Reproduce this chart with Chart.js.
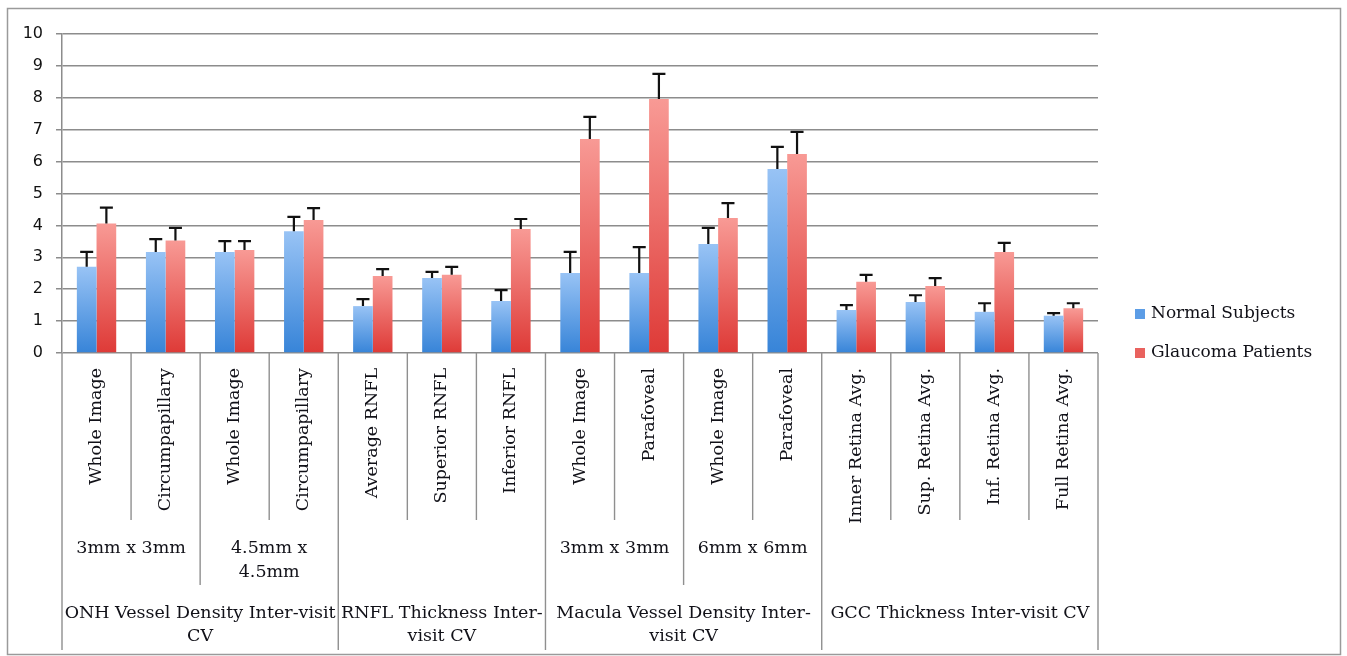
<!DOCTYPE html>
<html lang="en">
  <head>
    <meta charset="UTF-8" />
    <title>Inter-visit CV</title>
    <style>
      body { margin: 0; background: #fff; overflow: hidden; }
      #wrap { position: relative; width: 1347px; height: 656px; }
    </style>
  </head>
  <body>
    <div id="wrap"><canvas id="myChart"></canvas></div>

    <script src="https://cdn.jsdelivr.net/npm/chart.js"></script>
    <script>
      const categories = [
        "Whole Image", "Circumpapillary", "Whole Image", "Circumpapillary",
        "Average RNFL", "Superior RNFL", "Inferior RNFL",
        "Whole Image", "Parafoveal", "Whole Image", "Parafoveal",
        "Inner Retina Avg.", "Sup. Retina Avg.", "Inf. Retina Avg.", "Full Retina Avg.",
      ];
      const sizeLabels = [["3mm x 3mm"], ["4.5mm x", "4.5mm"], [], ["3mm x 3mm"], ["6mm x 6mm"], []];
      const sizeSpans = [2, 2, 3, 2, 2, 4];
      const groupLabels = [
        ["ONH Vessel Density Inter-visit", "CV"],
        ["RNFL Thickness Inter-", "visit CV"],
        ["Macula Vessel Density Inter-", "visit CV"],
        ["GCC Thickness Inter-visit CV"],
      ];
      const groupSpans = [4, 3, 4, 4];

      const normal = [2.70, 3.17, 3.17, 3.82, 1.47, 2.35, 1.63, 2.51, 2.51, 3.42, 5.77, 1.35, 1.60, 1.29, 1.17];
      const normalErr = [0.47, 0.40, 0.34, 0.45, 0.22, 0.19, 0.34, 0.66, 0.81, 0.50, 0.69, 0.15, 0.21, 0.27, 0.08];
      const glaucoma = [4.06, 3.53, 3.23, 4.17, 2.41, 2.45, 3.89, 6.71, 7.96, 4.23, 6.24, 2.23, 2.10, 3.17, 1.40];
      const glaucomaErr = [0.50, 0.39, 0.28, 0.37, 0.22, 0.25, 0.31, 0.69, 0.79, 0.47, 0.69, 0.22, 0.25, 0.28, 0.16];

      const serif = "'DejaVu Serif', serif";
      const gridColor = "#8c8c8c";
      const textColor = "#111118";

      function barGradient(top, bottom) {
        return (ctx) => {
          const chart = ctx.chart;
          const y = chart.scales.y;
          if (!chart.chartArea || !y || ctx.raw == null) return bottom;
          const y0 = y.getPixelForValue(0);
          const y1 = y.getPixelForValue(ctx.raw);
          if (!isFinite(y0) || !isFinite(y1) || y0 === y1) return bottom;
          const g = chart.ctx.createLinearGradient(0, y1, 0, y0);
          g.addColorStop(0, top);
          g.addColorStop(1, bottom);
          return g;
        };
      }

      // error bars (upper only), drawn from the y scale
      const errorBars = {
        id: "errorBars",
        afterDatasetsDraw(chart) {
          const ctx = chart.ctx;
          const y = chart.scales.y;
          ctx.save();
          ctx.strokeStyle = "#111";
          ctx.lineWidth = 2.2;
          chart.data.datasets.forEach((ds, di) => {
            const meta = chart.getDatasetMeta(di);
            meta.data.forEach((bar, i) => {
              const top = y.getPixelForValue(ds.data[i] + ds.errors[i]);
              ctx.beginPath();
              ctx.moveTo(bar.x, bar.y);
              ctx.lineTo(bar.x, top);
              ctx.moveTo(bar.x - 6.5, top);
              ctx.lineTo(bar.x + 6.5, top);
              ctx.stroke();
            });
          });
          ctx.restore();
        },
      };

      // multi-level category axis, legend and frame
      const extras = {
        id: "extras",
        afterDraw(chart) {
          const ctx = chart.ctx;
          const x = chart.scales.x;
          const base = chart.chartArea.bottom;
          const step = x.width / categories.length;
          const edge = (i) => x.left + step * i;
          ctx.save();

          // dividers
          const groupEnds = [], sizeEnds = [];
          groupSpans.reduce((a, n) => { groupEnds.push(a + n); return a + n; }, 0);
          sizeSpans.reduce((a, n) => { sizeEnds.push(a + n); return a + n; }, 0);
          ctx.strokeStyle = "#8f8f8f";
          ctx.lineWidth = 1.4;
          for (let i = 0; i <= categories.length; i++) {
            let end = 520;
            if (i === 0 || groupEnds.includes(i)) end = 650;
            else if (sizeEnds.includes(i)) end = 585;
            ctx.beginPath();
            ctx.moveTo(edge(i), base);
            ctx.lineTo(edge(i), end);
            ctx.stroke();
          }

          ctx.fillStyle = textColor;
          ctx.font = "17.5px " + serif;
          // level 1 (rotated)
          categories.forEach((c, i) => {
            ctx.save();
            ctx.translate(x.getPixelForValue(i), 368);
            ctx.rotate(-Math.PI / 2);
            ctx.textAlign = "right";
            ctx.textBaseline = "middle";
            ctx.fillText(c, 0, 0);
            ctx.restore();
          });
          ctx.textAlign = "center";
          ctx.textBaseline = "middle";
          // level 2
          let s = 0;
          sizeLabels.forEach((lines, k) => {
            const cx = (edge(s) + edge(s + sizeSpans[k])) / 2;
            lines.forEach((t, j) => ctx.fillText(t, cx, 548 + j * 24));
            s += sizeSpans[k];
          });
          // level 3
          s = 0;
          groupLabels.forEach((lines, k) => {
            const cx = (edge(s) + edge(s + groupSpans[k])) / 2;
            lines.forEach((t, j) => ctx.fillText(t, cx, 613 + j * 23));
            s += groupSpans[k];
          });

          // legend
          ctx.font = "17px " + serif;
          ctx.textAlign = "left";
          chart.data.datasets.forEach((ds, i) => {
            const cy = 314 + i * 39;
            ctx.fillStyle = ds.swatch;
            ctx.fillRect(1135, cy - 5, 10, 10);
            ctx.fillStyle = textColor;
            ctx.fillText(ds.label, 1151, cy);
          });

          // frame
          ctx.strokeStyle = "#9a9a9a";
          ctx.lineWidth = 1.5;
          ctx.strokeRect(7.5, 8.5, 1333, 646);
          ctx.restore();
        },
      };

      const chart = new Chart("myChart", {
        type: "bar",
        data: {
          labels: categories,
          datasets: [
            {
              label: "Normal Subjects",
              data: normal,
              errors: normalErr,
              swatch: "#5c9de6",
              backgroundColor: barGradient("#98c3f5", "#3784d8"),
              categoryPercentage: 0.57,
              barPercentage: 1.0,
            },
            {
              label: "Glaucoma Patients",
              data: glaucoma,
              errors: glaucomaErr,
              swatch: "#e9625e",
              backgroundColor: barGradient("#f89a95", "#de3a37"),
              categoryPercentage: 0.57,
              barPercentage: 1.0,
            },
          ],
        },
        options: {
          responsive: true,
          maintainAspectRatio: false,
          animation: false,
          layout: { padding: { top: 34, right: 249, bottom: 0, left: 0 } },
          plugins: { legend: { display: false }, tooltip: { enabled: false } },
          scales: {
            x: {
              grid: { display: false },
              border: { display: false },
              ticks: { display: false },
              afterFit: (scale) => { scale.height = 303; },
            },
            y: {
              min: 0,
              max: 10,
              ticks: {
                stepSize: 1,
                padding: 13,
                color: "#111",
                font: { family: "'DejaVu Sans', sans-serif", size: 16 },
              },
              grid: { color: gridColor, lineWidth: 1.5, tickLength: 6 },
              border: { display: true, color: gridColor, width: 1.5 },
              afterFit: (scale) => { scale.width = 62; },
            },
          },
        },
        plugins: [errorBars, extras],
      });
    </script>
  </body>
</html>
